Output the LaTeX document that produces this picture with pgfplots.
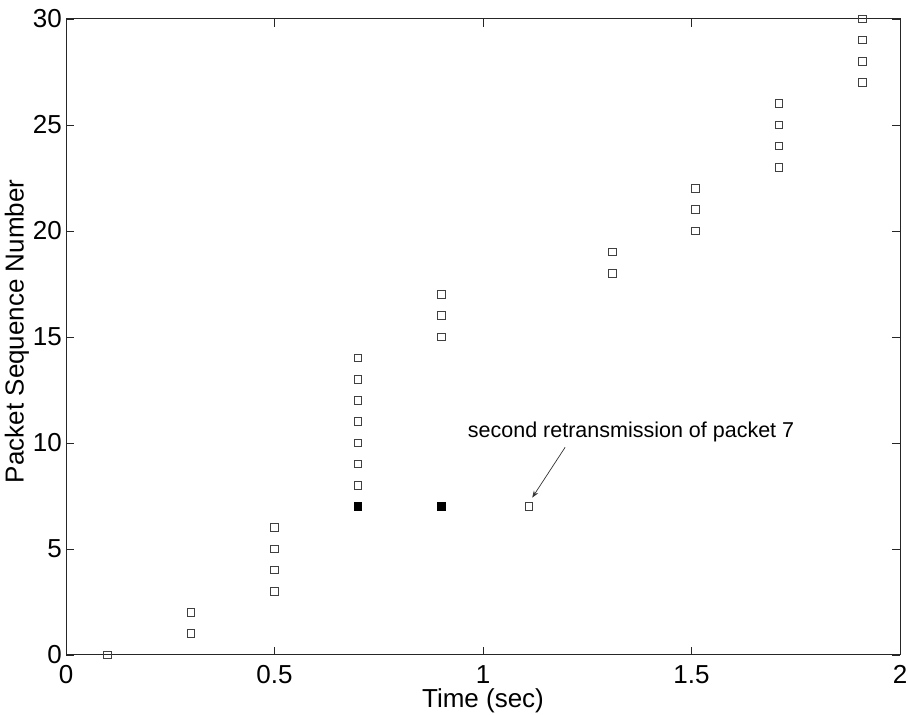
\documentclass[border=0pt]{standalone}
\usepackage{fontspec}
\setmainfont{Liberation Sans}
\usepackage{pgfplots}
\pgfplotsset{compat=1.18}
\usetikzlibrary{arrows.meta}
\begin{document}
\begin{tikzpicture}
\begin{axis}[
  scale only axis,
  width=834pt, height=636pt,
  xmin=0, xmax=2, ymin=0, ymax=30,
  xtick={0,0.5,1,1.5,2},
  ytick={0,5,10,15,20,25,30},
  tick align=inside,
  xtick pos=both, ytick pos=both,
  major tick length=8pt,
  axis line style={black!85, line width=1pt},
  tick style={black!85, line width=0.8pt},
  /pgf/number format/assume math mode=true,
  ticklabel style={font=\fontsize{26}{30}\selectfont, inner sep=0pt},
  xticklabel style={anchor=north, yshift=-10pt},
  yticklabel style={anchor=east, xshift=-4pt},
  xlabel={Time (sec)},
  ylabel={Packet Sequence Number},
  label style={font=\fontsize{26}{30}\selectfont, inner sep=0pt},
  xlabel style={at={(axis description cs:0.5,-0.0715)}, anchor=center},
  ylabel style={at={(axis description cs:-0.0588,0.509)}, anchor=center},
  clip=false,
]
\path (rel axis cs:-0.07914,-0.09434) rectangle (rel axis cs:1.00959,1.02987);
\addplot[only marks, mark=square, mark size=3.8pt, mark options={draw=black!75, line width=1pt}] coordinates {
(0.1,0) (0.3,1) (0.3,2) (0.5,3) (0.5,4) (0.5,5) (0.5,6)
(0.7,8) (0.7,9) (0.7,10) (0.7,11) (0.7,12) (0.7,13) (0.7,14)
(0.9,15) (0.9,16) (0.9,17)
(1.11,7)
(1.31,18) (1.31,19)
(1.51,20) (1.51,21) (1.51,22)
(1.71,23) (1.71,24) (1.71,25) (1.71,26)
(1.91,27) (1.91,28) (1.91,29) (1.91,30)
};
\addplot[only marks, mark=square*, mark size=3.8pt, mark options={draw=black, fill=black, line width=1pt}] coordinates {
(0.7,7) (0.9,7)
};
\draw[-{Stealth[length=7pt,width=5pt]}, black!80, line width=0.7pt] (axis cs:1.197,9.8) -- (axis cs:1.118,7.42);
\node[font=\fontsize{21.5}{25}\selectfont, inner sep=0pt] at (axis cs:1.355,10.5) {second retransmission of packet 7};
\end{axis}
\end{tikzpicture}
\end{document}
